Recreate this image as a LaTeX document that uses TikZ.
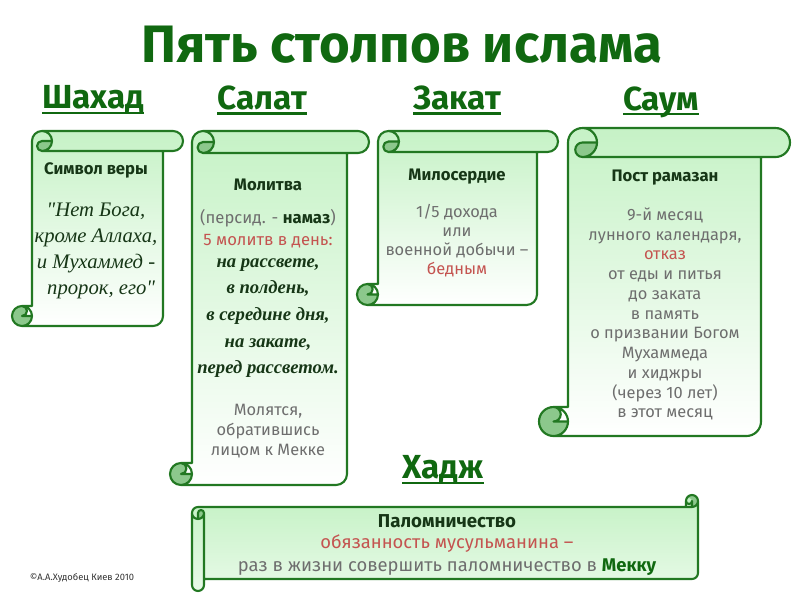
\documentclass[tikz,border=0pt]{standalone}
\usepackage{fontspec}
\setmainfont{Fira Sans}
\newfontfamily\handfont{Liberation Serif}

\definecolor{headgreen}{RGB}{16,104,16}
\definecolor{rimgreen}{RGB}{34,120,34}
\definecolor{paper}{RGB}{198,242,198}
\definecolor{curlgreen}{RGB}{140,200,140}
\definecolor{greytext}{RGB}{110,110,110}
\definecolor{redtext}{RGB}{196,84,80}
\definecolor{darktext}{RGB}{22,54,22}

% thick underline for the pillar names
\newcommand\headline[1]{\setbox0\hbox{#1}\rlap{\rule[-4pt]{\wd0}{1.6pt}}\box0}

\tikzset{
  scrollpaper/.style={top color=paper, bottom color=white},
  curlshade/.style={fill=curlgreen},
  scrollrim/.style={draw=rimgreen, line width=1.6pt, line join=round, line cap=round},
  pillar/.style={font=\fontsize{25}{28}\selectfont\bfseries, text=headgreen, inner sep=0pt},
  boxtitle/.style={font=\fontsize{12.5}{15}\selectfont\bfseries, text=darktext, inner sep=0pt},
  plain/.style={font=\fontsize{12.3}{14.8}\selectfont, text=greytext, align=center, inner sep=0pt},
  hand/.style={font=\handfont\itshape\fontsize{15.5}{19.5}\selectfont, text=darktext, align=center, inner sep=0pt},
}

% vertical scroll: left, top, right, bottom, roll size
\newcommand\vscroll[5]{%
  \pgfmathsetmacro\scL{#1}\pgfmathsetmacro\scT{#2}%
  \pgfmathsetmacro\scR{#3}\pgfmathsetmacro\scB{#4}%
  \pgfmathsetmacro\scC{#5}\pgfmathsetmacro\scH{#5/2}\pgfmathsetmacro\scQ{#5/4}%
  \fill[scrollpaper] (\scL+\scC,\scB-\scC) -- (\scL+\scC,\scT+\scH)
    arc[start angle=180, delta angle=90, radius=\scH] -- (\scR-\scH,\scT)
    arc[start angle=270, delta angle=180, radius=\scH] -- (\scR-\scC,\scT+\scC)
    -- (\scR-\scC,\scB-\scH) arc[start angle=0, delta angle=90, radius=\scH]
    -- (\scL+\scH,\scB) arc[start angle=90, delta angle=180, radius=\scH] -- cycle
    (\scL+\scC+\scH,\scT) arc[start angle=270, delta angle=180, radius=\scH]
    arc[start angle=90, delta angle=180, radius=\scQ] -- cycle;
  \fill[curlshade] (\scL+2*\scC,\scT+\scH) arc[start angle=0, delta angle=90, radius=\scH]
    arc[start angle=90, delta angle=180, radius=\scQ] -- cycle;
  \fill[curlshade] (\scL+\scH,\scB-\scH) circle[radius=\scH];
  \fill[white] (\scL+\scH,\scB-\scC) arc[start angle=270, delta angle=180, radius=\scQ]
    -- (\scL+\scC,\scB-\scH) -- (\scL+\scC,\scB-\scC) -- cycle;
  \draw[scrollrim] (\scL+\scC,\scB-\scC) -- (\scL+\scC,\scT+\scH)
    arc[start angle=180, delta angle=90, radius=\scH] -- (\scR-\scH,\scT)
    arc[start angle=270, delta angle=180, radius=\scH] -- (\scR-\scC,\scT+\scC)
    -- (\scR-\scC,\scB-\scH) arc[start angle=0, delta angle=90, radius=\scH]
    -- (\scL+\scH,\scB) arc[start angle=90, delta angle=180, radius=\scH] -- cycle
    (\scL+\scC+\scH,\scT) arc[start angle=270, delta angle=180, radius=\scH]
    arc[start angle=90, delta angle=180, radius=\scQ] -- (\scL+2*\scC,\scT+\scH)
    (\scR-\scC,\scT+\scC) -- (\scL+\scC+\scH,\scT+\scC)
    (\scL+\scH,\scB-\scC) arc[start angle=270, delta angle=180, radius=\scQ] -- (\scL+\scC,\scB-\scH)
    (\scL+\scH,\scB) arc[start angle=90, delta angle=-180, radius=\scH];
}

% horizontal scroll: left, top, right, bottom, roll size
\newcommand\hscroll[5]{%
  \pgfmathsetmacro\scL{#1}\pgfmathsetmacro\scT{#2}%
  \pgfmathsetmacro\scR{#3}\pgfmathsetmacro\scB{#4}%
  \pgfmathsetmacro\scC{#5}\pgfmathsetmacro\scH{#5/2}\pgfmathsetmacro\scQ{#5/4}%
  \fill[top color=paper, bottom color=paper!40] (\scR,\scT+\scH) arc[start angle=0, delta angle=90, radius=\scH]
    -- (\scL+\scH,\scT+\scC) arc[start angle=270, delta angle=-90, radius=\scH]
    -- (\scL,\scB-\scH) arc[start angle=180, delta angle=-180, radius=\scH]
    -- (\scL+\scC,\scB-\scC) -- (\scR-\scH,\scB-\scC) arc[start angle=90, delta angle=-90, radius=\scH]
    -- cycle;
  \fill[paper] (\scR-\scH,\scT+\scH) circle[radius=\scH];
  \fill[curlshade] (\scR-\scH,\scT+\scC) arc[start angle=90, delta angle=-270, radius=\scH]
    arc[start angle=180, delta angle=180, radius=\scQ] -- cycle;
  \fill[curlshade] (\scL+\scH,\scT+2*\scC) arc[start angle=90, delta angle=-90, radius=\scH]
    arc[start angle=0, delta angle=-180, radius=\scQ] -- cycle;
  \draw[scrollrim] (\scL,\scT+\scC+\scH) arc[start angle=180, delta angle=90, radius=\scH]
    -- (\scR-\scC,\scT+\scC) -- (\scR-\scC,\scT+\scH)
    arc[start angle=180, delta angle=180, radius=\scH]
    -- (\scR,\scB-\scC-\scH) arc[start angle=0, delta angle=90, radius=\scH]
    -- (\scL+\scC,\scB-\scC) -- (\scL+\scC,\scB-\scH)
    arc[start angle=0, delta angle=180, radius=\scH] -- cycle
    (\scR-\scC,\scT+\scC) -- (\scR-\scH,\scT+\scC) arc[start angle=90, delta angle=-90, radius=\scH]
    (\scR-\scH,\scT+\scC) -- (\scR-\scH,\scT+\scH) arc[start angle=0, delta angle=180, radius=\scQ]
    (\scL+\scH,\scT+2*\scC) -- (\scL+\scH,\scT+\scC+\scH) arc[start angle=180, delta angle=180, radius=\scQ]
    arc[start angle=0, delta angle=180, radius=\scH]
    (\scL+\scC,\scT+\scC+\scH) -- (\scL+\scC,\scB-\scC);
}

\begin{document}
\begin{tikzpicture}[x=0.75pt,y=0.75pt,yscale=-1,xscale=1]
\useasboundingbox (0,0) rectangle (800,600);
% Scrolls
\vscroll{12}{131}{183}{326}{20}
\vscroll{170}{131}{369}{485}{22}
\vscroll{357}{131}{558}{305}{21}
\vscroll{539}{128}{790}{436}{29}
\hscroll{192}{495}{698}{591}{12}
% Title
\node (title) at (402,45) [font=\fontsize{39.5}{42}\selectfont\bfseries, text=headgreen, inner sep=0pt] {Пять столпов ислама};
% Pillar names
\node (shahada) at (93,100) [pillar] {\headline{Шахад}};
\node (salat) at (262,100) [pillar] {\headline{Салат}};
\node (zakat) at (457,100) [pillar] {\headline{Закат}};
\node (saum) at (661,102) [pillar] {\headline{Саум}};
\node (hajj) at (443,470) [pillar] {\headline{Хадж}};
% Shahada text
\node (shahadahead) at (96,170) [boxtitle] {Символ веры};
\node (shahadatext) at (96,251) [hand] {"Нет Бога,\\кроме Аллаха,\\и Мухаммед -\\\ \ пророк, его"};
% Salat text
\node (salathead) at (268,185) [boxtitle] {Молитва};
\node (salatname) at (268,229) [plain, font=\fontsize{12.5}{16.5}\selectfont] {(персид. - {\bfseries\color{darktext}намаз})\\\textcolor{redtext}{5 молитв в день:}};
\node (salattimes) at (268,318) [hand, font=\handfont\itshape\bfseries\fontsize{14}{20}\selectfont] {на рассвете,\\в полдень,\\в середине дня,\\на закате,\\перед рассветом.};
\node (salatmecca) at (268,431) [plain] {Молятся,\\обратившись\\лицом к Мекке};
% Zakat text
\node (zakathead) at (457,177) [boxtitle] {Милосердие};
\node (zakattext) at (457,241) [plain, font=\fontsize{12.3}{14.3}\selectfont] {1/5 дохода\\или\\военной добычи --\\\textcolor{redtext}{бедным}};
% Saum text
\node (saumhead) at (665,178) [boxtitle] {Пост рамазан};
\node (saumtext) at (665,314) [plain] {9-й месяц\\лунного календаря,\\\textcolor{redtext}{отказ}\\от еды и питья\\до заката\\в память\\о призвании Богом\\Мухаммеда\\и хиджры\\(через 10 лет)\\в этот месяц};
% Hajj text
\node (hajjhead) at (447,521) [boxtitle, font=\fontsize{14}{16}\selectfont\bfseries] {Паломничество};
\node (hajjtext) at (447,555) [plain, font=\fontsize{13.8}{17}\selectfont] {\textcolor{redtext}{обязанность мусульманина --}\\раз в жизни совершить паломничество в {\bfseries\color{headgreen}Мекку}};
% Author
\node (author) at (82,578) [font=\fontsize{7}{8}\selectfont, text=black!80, inner sep=0pt] {©А.А.Худобец Киев 2010};
\end{tikzpicture}
\end{document}
